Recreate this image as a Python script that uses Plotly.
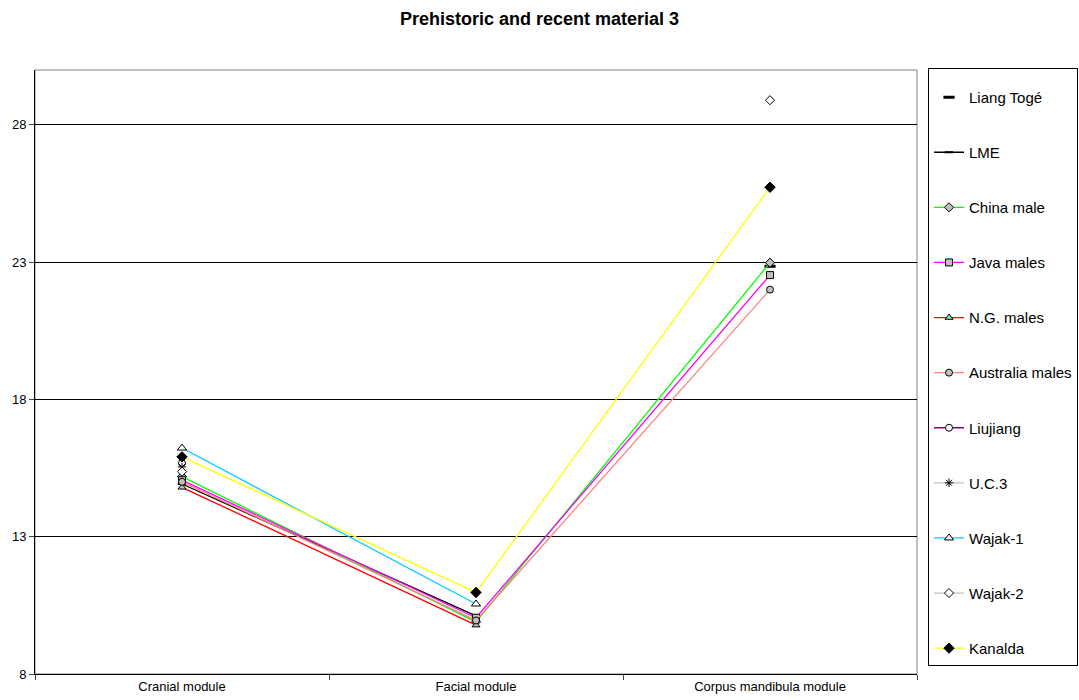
import plotly.graph_objects as go

categories = ["Cranial module", "Facial module", "Corpus mandibula module"]

liang_toge = [None, None, 22.85]
lme = [14.92, 10.12, None]
china_male = [15.19, 9.9, 22.98]
java_males = [15.06, 10.05, 22.53]
ng_males = [14.8, 9.78, None]
australia_males = [15.0, 9.95, 22.0]
liujiang = [15.68, None, None]
uc3 = [15.54, None, None]
wajak1 = [16.23, 10.55, None]
wajak2 = [15.37, None, 28.9]
kanalda = [15.91, 10.97, 25.73]

series_names = ["Liang Togé", "LME", "China male", "Java males", "N.G. males",
                "Australia males", "Liujiang", "U.C.3", "Wajak-1", "Wajak-2", "Kanalda"]
series_values = [liang_toge, lme, china_male, java_males, ng_males,
                 australia_males, liujiang, uc3, wajak1, wajak2, kanalda]

styles = [
    dict(mode="markers", color="black", symbol="line-ew", fill="black", size=8, lw=3),
    dict(mode="lines+markers", color="black", symbol="line-ew", fill="black", size=6, lw=2),
    dict(mode="lines+markers", color="#00FF00", symbol="diamond", fill="#C0C0C0", size=7, lw=1),
    dict(mode="lines+markers", color="#FF00FF", symbol="square", fill="#C0C0C0", size=7, lw=1),
    dict(mode="lines+markers", color="#FF0000", symbol="triangle-up", fill="#C0C0C0", size=7, lw=1),
    dict(mode="lines+markers", color="#FF8080", symbol="circle", fill="#C0C0C0", size=7, lw=1),
    dict(mode="lines+markers", color="#800080", symbol="circle", fill="white", size=7, lw=1),
    dict(mode="lines+markers", color="#C0C0C0", symbol="asterisk-open", fill="black", size=7, lw=1),
    dict(mode="lines+markers", color="#00CCFF", symbol="triangle-up", fill="white", size=8, lw=1),
    dict(mode="lines+markers", color="#C0C0C0", symbol="diamond", fill="white", size=7, lw=1),
    dict(mode="lines+markers", color="#FFFF00", symbol="diamond", fill="black", size=8, lw=1),
]

fig = go.Figure()
for i, (name, vals, st) in enumerate(zip(series_names, series_values, styles)):
    fig.add_trace(go.Scatter(
        x=categories, y=vals, name=name, mode=st["mode"],
        connectgaps=False, legendgroup=f"g{i}",
        line=dict(color=st["color"], width=1.3),
        marker=dict(symbol=st["symbol"], size=st["size"], color=st["fill"],
                    line=dict(color="black", width=st["lw"])),
    ))

fig.update_layout(
    width=1079, height=700,
    paper_bgcolor="white", plot_bgcolor="white",
    margin=dict(l=35, r=162, t=70, b=26, autoexpand=False),
    font=dict(family="Arial, Liberation Sans, sans-serif", color="black", size=13),
    title=dict(text="<b>Prehistoric and recent material 3</b>", x=0.5, xanchor="center",
               y=0.974, yanchor="middle", font=dict(size=18)),
    legend=dict(x=1.0125, y=1.003, xanchor="left", yanchor="top",
                bordercolor="black", borderwidth=1, bgcolor="white",
                title=dict(text="&nbsp;", font=dict(size=9)),
                font=dict(size=15), tracegroupgap=32.6, itemwidth=30, maxheight=700),
    showlegend=True,
)
fig.update_xaxes(type="category", range=[-0.5, 2.5], tickson="boundaries", ticks="outside", ticklen=5,
                 showline=True, linecolor="black", linewidth=1, mirror=False, automargin=False,
                 showgrid=False, tickfont=dict(size=13))
fig.update_yaxes(range=[8, 30], tick0=8, dtick=5, ticks="outside", ticklen=5, automargin=False,
                 showline=True, linecolor="black", linewidth=1,
                 showgrid=True, gridcolor="black", gridwidth=1,
                 zeroline=False, tickfont=dict(size=13))
fig.add_shape(type="rect", xref="paper", yref="paper", x0=0, y0=0, x1=1, y1=1,
              line=dict(color="#808080", width=1), layer="below")

fig.write_html("out.html", config={"displayModeBar": False},
               post_script="document.body.style.margin='0';")
